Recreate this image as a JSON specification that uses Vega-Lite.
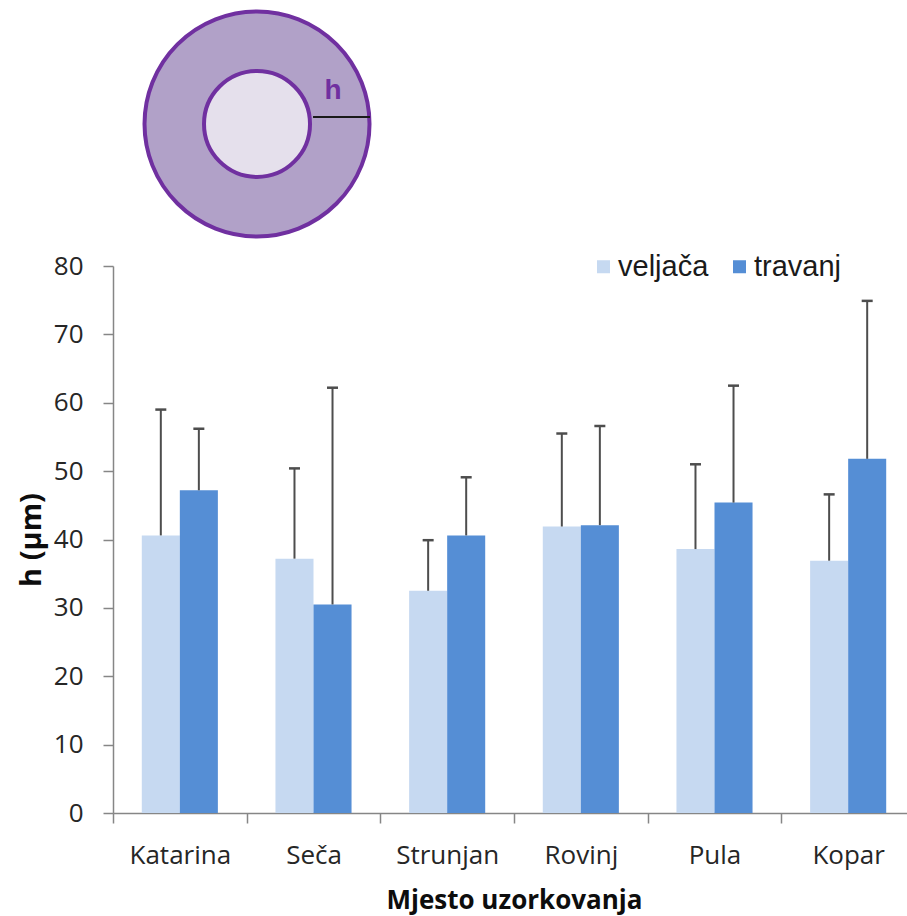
{
  "$schema": "https://vega.github.io/schema/vega-lite/v6.json",
  "autosize": {"type": "none"},
  "padding": {"left": 113, "top": 0, "right": 0, "bottom": 103},
  "width": 794,
  "height": 813,
  "config": {
    "view": {"stroke": null},
    "axis": {"domainColor": "#868686", "tickColor": "#868686", "domainWidth": 1.5, "tickWidth": 1.5, "tickSize": 10, "labelFont": "Open Sans", "labelColor": "#262626", "titleFont": "Open Sans", "titleColor": "#0d0d0d", "titleFontWeight": "bold", "grid": false}
  },
  "resolve": {"scale": {"x": "independent", "y": "independent"}, "axis": {"x": "independent", "y": "independent"}},
  "layer": [
    {
      "data": {"values": [
        {"part": "outer", "x": 0, "y": 0},
        {"part": "inner", "x": 0, "y": 0},
        {"part": "radius", "x": 0.497, "x2": 1.003, "y": 0.062},
        {"part": "label", "x": 0.674, "y": 0.293, "label": "h"}
      ]},
      "encoding": {
        "x": {"field": "x", "type": "quantitative", "scale": {"domain": [-1.278, 5.768], "nice": false, "zero": false}, "axis": null},
        "y": {"field": "y", "type": "quantitative", "scale": {"domain": [-6.114, 1.1], "nice": false, "zero": false}, "axis": null}
      },
      "layer": [
        {"transform": [{"filter": "datum.part === 'outer'"}], "mark": {"type": "point", "shape": "circle", "filled": true, "size": 50625, "fill": "#b1a1c8", "stroke": "#7030a0", "strokeWidth": 4, "opacity": 1, "fillOpacity": 1, "strokeOpacity": 1}},
        {"transform": [{"filter": "datum.part === 'inner'"}], "mark": {"type": "point", "shape": "circle", "filled": true, "size": 11236, "fill": "#e5e0ec", "stroke": "#7030a0", "strokeWidth": 4, "opacity": 1, "fillOpacity": 1, "strokeOpacity": 1}},
        {"transform": [{"filter": "datum.part === 'radius'"}], "mark": {"type": "rule", "color": "#1a1a1a", "strokeWidth": 2}, "encoding": {"x2": {"field": "x2"}}},
        {"transform": [{"filter": "datum.part === 'label'"}], "mark": {"type": "text", "font": "Liberation Sans", "fontWeight": "bold", "fontSize": 28, "color": "#7030a0"}, "encoding": {"text": {"field": "label"}}}
      ]
    },
    {
      "data": {"values": [
        {"place": "Katarina", "month": "veljača", "value": 40.6, "upper": 59.0},
        {"place": "Katarina", "month": "travanj", "value": 47.2, "upper": 56.2},
        {"place": "Seča", "month": "veljača", "value": 37.2, "upper": 50.4},
        {"place": "Seča", "month": "travanj", "value": 30.5, "upper": 62.2},
        {"place": "Strunjan", "month": "veljača", "value": 32.5, "upper": 39.9},
        {"place": "Strunjan", "month": "travanj", "value": 40.6, "upper": 49.1},
        {"place": "Rovinj", "month": "veljača", "value": 41.9, "upper": 55.5},
        {"place": "Rovinj", "month": "travanj", "value": 42.1, "upper": 56.6},
        {"place": "Pula", "month": "veljača", "value": 38.6, "upper": 51.0},
        {"place": "Pula", "month": "travanj", "value": 45.4, "upper": 62.5},
        {"place": "Kopar", "month": "veljača", "value": 36.9, "upper": 46.6},
        {"place": "Kopar", "month": "travanj", "value": 51.8, "upper": 74.9}
      ]},
      "encoding": {
        "x": {"field": "place", "type": "nominal", "sort": null,
          "scale": {"paddingInner": 0, "paddingOuter": 0, "range": [0, 802]},
          "axis": {"title": "Mjesto uzorkovanja", "labelAngle": 0, "tickBand": "extent", "labelFontSize": 26, "labelPadding": 19, "titleFontSize": 26, "titlePadding": 19}},
        "xOffset": {"field": "month", "type": "nominal", "sort": ["veljača", "travanj"], "scale": {"paddingInner": 0, "paddingOuter": 0.757}}
      },
      "layer": [
        {
          "mark": {"type": "bar"},
          "encoding": {
            "y": {"field": "value", "type": "quantitative", "title": "h (µm)", "scale": {"domain": [0, 80], "range": [813, 266]},
              "axis": {"values": [0, 10, 20, 30, 40, 50, 60, 70, 80], "labelFontSize": 26, "labelPadding": 20, "titleFontSize": 29, "titlePadding": 7}},
            "color": {"field": "month", "type": "nominal", "sort": ["veljača", "travanj"],
              "scale": {"domain": ["veljača", "travanj"], "range": ["#c6d9f1", "#558ed5"]},
              "legend": {"title": null, "orient": "none", "legendX": 476, "legendY": 252, "direction": "horizontal", "symbolType": "square", "symbolSize": 169, "symbolStrokeWidth": 0, "labelFont": "Liberation Sans", "labelFontSize": 29, "labelColor": "#1a1a1a", "labelOffset": 0, "columnPadding": 16}}
          }
        },
        {
          "mark": {"type": "rule", "color": "#4d4d4d", "strokeWidth": 2},
          "encoding": {"y": {"field": "value", "type": "quantitative", "title": "h (µm)"}, "y2": {"field": "upper"}}
        },
        {
          "mark": {"type": "tick", "color": "#4d4d4d", "thickness": 2.5, "size": 11, "opacity": 1},
          "encoding": {"y": {"field": "upper", "type": "quantitative", "title": "h (µm)"}}
        }
      ]
    }
  ]
}
